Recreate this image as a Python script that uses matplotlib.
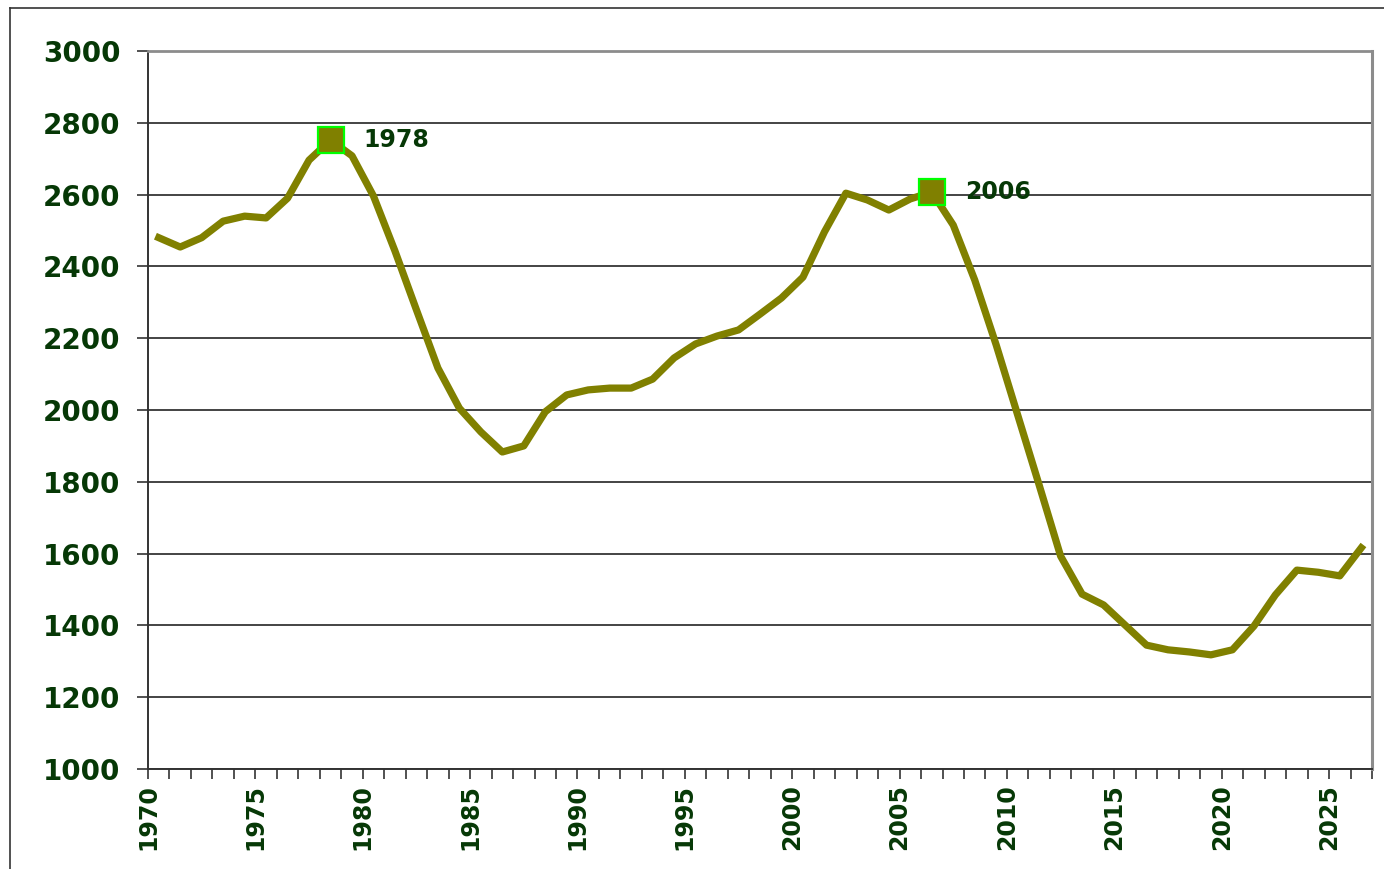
import matplotlib.pyplot as plt
import numpy as np
from matplotlib.lines import Line2D

years = list(range(1970, 2027))
values = [2480, 2454, 2480, 2526, 2540, 2535, 2590, 2696, 2752, 2708,
          2596, 2443, 2279, 2117, 2005, 1939, 1883, 1900, 1995, 2042,
          2056, 2061, 2061, 2086, 2145, 2184, 2206, 2223, 2267, 2312,
          2370, 2496, 2604, 2585, 2557, 2588, 2607, 2515, 2362, 2181,
          1986, 1791, 1593, 1487, 1457, 1401, 1345, 1332, 1326, 1318,
          1332, 1398, 1485, 1554, 1548, 1538, 1616]
peak_years = [1978, 2006]

olive = '#808000'
txt = '#063806'

fig = plt.figure(figsize=(13.84, 8.69), dpi=100)
ax = fig.add_axes([148 / 1384, 1 - 769 / 869, 1224 / 1384, 718 / 869])

# points sit in the middle of each year slot, like an Excel category axis
x = np.array(years) + 0.5
ax.plot(x, values, color=olive, lw=5.2, solid_joinstyle='round', zorder=3)
for yr in peak_years:
    i = years.index(yr)
    ax.plot(x[i], values[i], 's', ms=19, mfc=olive, mec='#00ff00', mew=1.6, zorder=4)
    ax.annotate(str(yr), (x[i], values[i]), xytext=(24, 0), textcoords='offset points',
                va='center', ha='left', fontsize=17, fontweight='bold', color=txt)

ax.set_xlim(1970, 2027)
ax.set_ylim(1000, 3000)
ax.set_yticks(range(1000, 3001, 200))
ax.set_xticks(range(1970, 2026, 5))
ax.set_xticks(range(1970, 2028), minor=True)
ax.set_xticklabels([str(v) for v in range(1970, 2026, 5)], rotation=90)
ax.yaxis.grid(True, color='#111111', lw=1.1)
ax.set_axisbelow(True)

ax.tick_params(axis='y', length=8, width=1.2, pad=12, labelsize=20, labelcolor=txt, color='#333333')
ax.tick_params(axis='x', which='both', length=7, width=1.2, pad=4, color='#333333')
ax.tick_params(axis='x', labelsize=17, labelcolor=txt)
for lab in ax.get_xticklabels() + ax.get_yticklabels():
    lab.set_fontweight('bold')

ax.spines['left'].set_color('#333333')
ax.spines['bottom'].set_color('#333333')
ax.spines['left'].set_linewidth(1.4)
ax.spines['bottom'].set_linewidth(1.4)
ax.spines['top'].set_color('#8c8c8c')
ax.spines['right'].set_color('#8c8c8c')
ax.spines['top'].set_linewidth(2)
ax.spines['right'].set_linewidth(2.2)

# outer chart frame
fig.add_artist(Line2D([10 / 1384, 10 / 1384], [0, 1 - 8 / 869], transform=fig.transFigure, color='#333333', lw=1.2))
fig.add_artist(Line2D([10 / 1384, 1], [1 - 8 / 869, 1 - 8 / 869], transform=fig.transFigure, color='#333333', lw=1.2))

fig.savefig('out.png', dpi=100)
